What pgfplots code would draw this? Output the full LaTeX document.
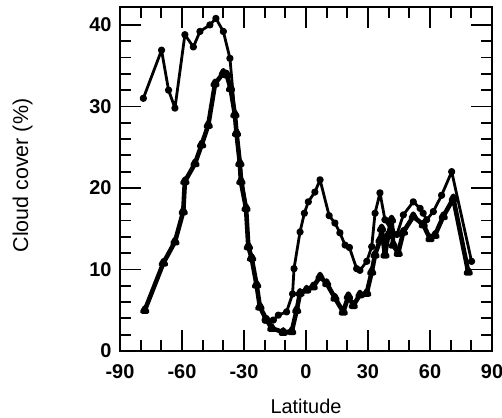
\documentclass[border=0pt]{standalone}
\usepackage{fontspec}
\setmainfont{Liberation Sans}
\usepackage{pgfplots}
\pgfplotsset{compat=1.18}
\begin{document}
\begin{tikzpicture}
\begin{axis}[
  at={(0,0)}, anchor=south west,
  scale only axis, width=372bp, height=344bp,
  xmin=-90, xmax=90, ymin=0, ymax=42.2,
  xtick={-90,-60,...,90}, ytick={0,10,...,40},
  minor x tick num=2, minor y tick num=4,
  tick align=inside,
  major tick length=21bp, minor tick length=11bp,
  every tick/.style={black, line width=1.8bp},
  axis line style={line width=2.4bp},
  /pgf/number format/assume math mode=true,
  xticklabel style={font=\fontsize{20}{24}\selectfont\bfseries, yshift=-10bp},
  yticklabel style={font=\fontsize{20}{24}\selectfont\bfseries, xshift=-5bp},
  xlabel={Latitude}, ylabel={Cloud cover (\%)},
  every axis x label/.style={at={(axis description cs:0.5,-0.16)}, anchor=center, font=\fontsize{20}{24}\selectfont},
  every axis y label/.style={at={(axis description cs:-0.262,0.51)}, anchor=center, rotate=90, font=\fontsize{21.5}{25}\selectfont},
  clip=false,
]
% circles series
\addplot[black, line width=2.8bp, line join=round, mark=*, mark size=2.2bp] coordinates {
(-78.7,31.0) (-69.9,36.9) (-66.5,32.0) (-63.4,29.8) (-58.6,38.8) (-54.5,37.3) (-51.3,39.2)
(-46.5,40.0) (-43.6,40.8) (-40,39.2) (-36.8,35.9) (-34.4,29.0) (-32,23.0) (-29,17.5)
(-27.9,12.8) (-26.3,11.4) (-23.9,8.1) (-22.3,5.4) (-19.8,3.8) (-15.8,3.8) (-13.4,4.4)
(-9.4,4.8) (-6.5,7.0) (-5.8,10.1) (-2.9,14.6) (-0.8,16.9) (1.1,18.3) (4.3,19.5) (6.8,21.0)
(11.2,16.6) (14,15.7) (16.4,14.5) (18.9,13.0) (21.0,12.7) (24.5,10.1) (26.1,9.9) (29.4,11.0)
(31.8,12.8) (33.4,16.9) (35.8,19.4) (38.2,16.1) (41.4,14.8) (44,14.3) (47.1,16.7) (51.9,18.3)
(55.2,17.5) (56.7,16.9) (58.4,16.1) (61.6,17.1) (65.6,19.1) (70.5,22.0) (80.1,11.0)
};
% triangles series
\addplot[black, line width=4.6bp, line join=round, mark=triangle*, mark size=2.8bp] coordinates {
(-78,5.0) (-69,10.8) (-63.4,13.4) (-59.4,17.1) (-58.6,20.8) (-53.7,23.0) (-50.5,25.3)
(-47.3,27.7) (-44,32.8) (-40,34.1) (-38.4,33.9) (-36.5,32.2) (-34.4,29.0) (-33.6,26.7)
(-32,23.0) (-31.5,20.8) (-29,17.5) (-27.9,12.8) (-26.3,11.4) (-23.9,8.1) (-22.3,5.4)
(-19,3.8) (-16.6,2.8) (-11,2.3) (-6.9,2.4) (-4.5,5.0) (-2.9,7.1) (0.3,7.5) (3.5,7.9)
(6.8,9.1) (10,8.3) (14,6.5) (18,4.8) (20.5,6.7) (22.9,5.6) (26.1,6.9) (29.4,7.1)
(31.8,9.7) (33.4,11.8) (35.8,13.6) (36.6,15.0) (38.2,11.8) (39.8,14.2) (41.4,16.1)
(42.2,13.0) (44.6,12.0) (47.1,14.6) (51.9,16.5) (56.7,15.5) (60,13.8) (62.4,14.2)
(66.4,16.5) (71.3,18.7) (78.5,9.7)
};
\end{axis}
\pgfresetboundingbox
\path (-120bp,-67bp) rectangle (382bp,351bp);
\end{tikzpicture}
\end{document}
